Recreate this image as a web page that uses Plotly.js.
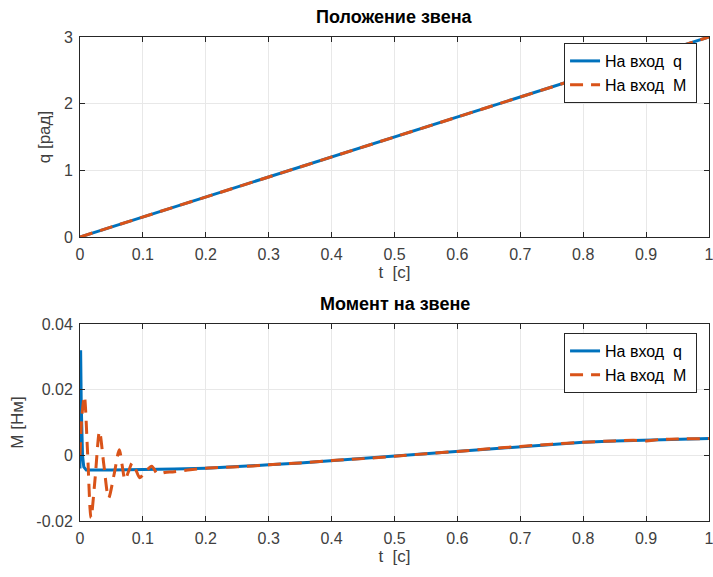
<!DOCTYPE html>
<html>
<head>
<meta charset="utf-8">
<script src="https://cdn.plot.ly/plotly-3.0.1.min.js"></script>
<style>html,body{margin:0;padding:0;background:#fff;}#chart{width:713px;height:577px;}</style>
</head>
<body>
<div id="chart"></div>
<script>
// ---- Data ----
const titleTop = "Положение звена";
const titleBottom = "Момент на звене";
const legendNames = ["На вход\u00A0 q", "На вход\u00A0 M"];

// Top: link position q [rad]
const tPosQ = [0, 0.25, 0.5, 0.75, 1.0];
const posQ  = [0, 0.75, 1.5, 2.25, 3.0];
const tPosM = [0, 0.25, 0.5, 0.75, 1.0];
const posM  = [0, 0.75, 1.5, 2.25, 3.0];

// Bottom: link torque M [Nm]
const tTorQ = [0, 0.001, 0.002, 0.004, 0.006, 0.01, 0.05, 0.1, 0.15, 0.2, 0.25, 0.3, 0.35, 0.4, 0.45, 0.5, 0.55, 0.6, 0.65, 0.7, 0.75, 0.8, 0.85, 0.9, 0.95, 1.0];
const torQ  = [-0.004, 0.032, 0.015, 0.000, -0.0035, -0.0045, -0.0045, -0.0044, -0.0042, -0.0039, -0.0035, -0.0029, -0.0023, -0.0016, -0.0010, -0.0003, 0.0005, 0.0012, 0.0020, 0.0027, 0.0034, 0.0040, 0.0044, 0.0047, 0.0050, 0.0051];

const tTorM = [0, 0.003, 0.007, 0.012, 0.0175, 0.024, 0.031, 0.038, 0.0455, 0.054, 0.0625, 0.067, 0.0715, 0.077, 0.083, 0.089, 0.095, 0.104, 0.114, 0.123, 0.135, 0.15, 0.175, 0.2, 0.25, 0.3, 0.35, 0.4, 0.45, 0.5, 0.55, 0.6, 0.65, 0.7, 0.75, 0.8, 0.85, 0.88, 0.9, 0.92, 0.95, 1.0];
const torM  = [0, 0.012, 0.018, 0.001, -0.019, -0.007, 0.0073, -0.003, -0.013, -0.006, 0.0017, -0.003, -0.0074, -0.005, -0.0023, -0.0045, -0.0068, -0.005, -0.0033, -0.0056, -0.0052, -0.005, -0.0044, -0.0039, -0.0035, -0.0029, -0.0023, -0.0016, -0.0010, -0.0003, 0.0005, 0.0012, 0.0020, 0.0027, 0.0034, 0.0040, 0.0044, 0.0046, 0.0044, 0.0048, 0.0050, 0.0051];

const xTicks = [0, 0.1, 0.2, 0.3, 0.4, 0.5, 0.6, 0.7, 0.8, 0.9, 1];
const xTickText = ["0", "0.1", "0.2", "0.3", "0.4", "0.5", "0.6", "0.7", "0.8", "0.9", "1"];
const yTopTicks = [0, 1, 2, 3];
const yTopTickText = ["0", "1", "2", "3"];
const yBotTicks = [-0.02, 0, 0.02, 0.04];
const yBotTickText = ["-0.02", "0", "0.02", "0.04"];

// ---- Styles ----
const BLUE = "#0072BD", ORANGE = "#D95319";
const AX = "#262626";
const FONT = "'Liberation Sans', Arial, Helvetica, sans-serif";
const dashStyle = "13px,8px";
const PAD = "\u00A0"; // slightly widens legend box like the reference

const traces = [
  {x: tPosQ, y: posQ, xaxis: "x", yaxis: "y", mode: "lines", name: legendNames[0] + PAD, legend: "legend",
   line: {color: BLUE, width: 3}},
  {x: tPosM, y: posM, xaxis: "x", yaxis: "y", mode: "lines", name: legendNames[1] + PAD, legend: "legend",
   line: {color: ORANGE, width: 3, dash: dashStyle}},
  {x: tTorQ, y: torQ, xaxis: "x2", yaxis: "y2", mode: "lines", name: legendNames[0] + PAD, legend: "legend2",
   line: {color: BLUE, width: 3}},
  {x: tTorM, y: torM, xaxis: "x2", yaxis: "y2", mode: "lines", name: legendNames[1] + PAD, legend: "legend2",
   line: {color: ORANGE, width: 3, dash: dashStyle, shape: "spline", smoothing: 0.8}}
];

function xAxis(anchor) {
  return {
    anchor: anchor, domain: [0, 1], range: [0, 1],
    tickvals: xTicks, ticktext: xTickText,
    ticks: "inside", ticklen: 5, tickcolor: AX, tickwidth: 1,
    showline: true, linecolor: AX, linewidth: 1, mirror: "ticks",
    showgrid: true, gridcolor: "#e8e8e8", gridwidth: 1, zeroline: false,
    tickfont: {family: FONT, size: 16, color: "#404040"},
    ticklabelstandoff: 3, ticklabeloverflow: "allow",
    title: {text: "t\u00A0 [с]", font: {family: FONT, size: 17, color: "#404040"}, standoff: 3},
    fixedrange: true
  };
}
function yAxis(anchor, domain, range, tv, tt, title) {
  return {
    anchor: anchor, domain: domain, range: range,
    tickvals: tv, ticktext: tt,
    ticks: "inside", ticklen: 5, tickcolor: AX, tickwidth: 1,
    showline: true, linecolor: AX, linewidth: 1, mirror: "ticks",
    showgrid: true, gridcolor: "#e8e8e8", gridwidth: 1, zeroline: false,
    tickfont: {family: FONT, size: 16, color: "#404040"},
    ticklabelstandoff: 3, ticklabeloverflow: "allow",
    title: {text: title, font: {family: FONT, size: 17, color: "#404040"}, standoff: 8},
    fixedrange: true
  };
}

const legendBase = {
  xref: "paper", yref: "paper", xanchor: "right", yanchor: "top",
  bgcolor: "#ffffff", bordercolor: AX, borderwidth: 1,
  font: {family: FONT, size: 16, color: "#000"},
  tracegroupgap: 0
};

const layout = {
  width: 713, height: 577,
  margin: {l: 80, r: 4, t: 37, b: 56},
  paper_bgcolor: "#ffffff", plot_bgcolor: "#ffffff",
  showlegend: true,
  xaxis: xAxis("y"),
  yaxis: yAxis("x", [0.5868, 1], [0, 3], yTopTicks, yTopTickText, "q [рад]"),
  xaxis2: xAxis("y2"),
  yaxis2: yAxis("x2", [0, 0.407], [-0.02, 0.04], yBotTicks, yBotTickText, "M [Нм]"),
  legend: Object.assign({}, legendBase, {x: 0.981, y: 0.9876}),
  legend2: Object.assign({}, legendBase, {x: 0.981, y: 0.3884}),
  annotations: [
    {text: "<b>" + titleTop + "</b>", xref: "paper", yref: "paper", x: 0.5, y: 1, yshift: 8,
     xanchor: "center", yanchor: "bottom", showarrow: false, font: {family: FONT, size: 18, color: "#000"}},
    {text: "<b>" + titleBottom + "</b>", xref: "paper", yref: "paper", x: 0.5, y: 0.407, yshift: 8,
     xanchor: "center", yanchor: "bottom", showarrow: false, font: {family: FONT, size: 18, color: "#000"}}
  ]
};

Plotly.newPlot("chart", traces, layout, {displayModeBar: false, staticPlot: true});
</script>
</body>
</html>
